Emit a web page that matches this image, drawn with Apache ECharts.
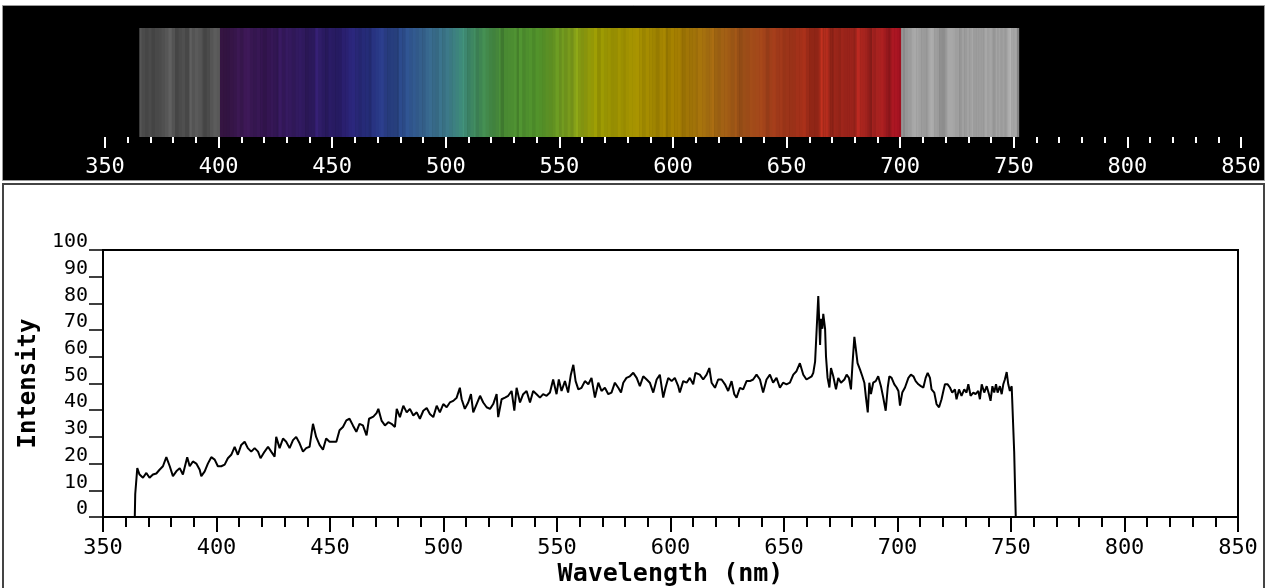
<!DOCTYPE html>
<html>
<head>
<meta charset="utf-8">
<script src="https://cdn.jsdelivr.net/npm/echarts@6/dist/echarts.min.js"></script>
<style>
html,body{margin:0;padding:0;background:#fff;}
#chart{width:1269px;height:588px;}
</style>
</head>
<body>
<div id="chart"></div>
<script>
const wavelength = [
364.0,364.2,364.9,365.1,366.1,367.6,369.1,370.5,372.0,373.5,374.9,376.4,377.9,379.4,380.8,382.3,383.8,385.2,387.1,388.2,
389.6,391.1,392.6,393.3,394.8,396.2,397.7,399.2,400.6,402.1,403.6,405.0,406.5,408.0,409.4,410.9,412.4,413.8,415.3,416.8,
418.3,419.4,421.2,422.7,424.1,425.6,426.3,427.8,429.3,430.7,432.2,433.7,435.1,436.6,438.1,439.5,441.0,442.5,443.9,445.4,
446.9,448.3,449.8,451.3,452.8,454.2,455.7,457.2,458.6,460.1,461.6,463.0,464.5,466.1,467.2,469.1,470.5,471.3,472.7,474.2,
475.7,477.1,478.6,479.4,480.8,482.3,483.8,485.2,486.7,488.2,489.6,491.1,492.6,494.0,495.5,497.0,498.4,499.9,501.4,502.8,
504.3,505.8,507.2,508.0,509.4,510.9,512.1,513.1,514.6,516.1,517.5,519.0,520.5,521.9,523.4,524.1,525.6,527.1,528.5,530.0,
531.2,532.2,533.7,535.1,536.6,538.1,539.5,541.0,542.5,543.9,545.4,546.9,548.3,549.8,550.8,552.0,553.5,554.9,556.1,557.2,
558.2,559.4,560.8,562.3,563.8,565.2,566.7,568.2,569.6,571.1,572.6,574.0,575.5,577.0,578.2,579.2,580.6,582.1,583.6,585.1,
586.5,588.0,589.5,590.9,592.4,593.9,595.3,596.8,597.8,599.0,600.5,601.9,603.4,604.1,605.6,607.1,608.5,610.0,611.0,612.9,
614.4,615.9,617.1,618.1,619.6,621.0,622.5,624.0,625.4,626.9,628.1,629.1,630.6,632.0,633.5,635.0,636.4,637.9,639.4,640.8,
642.3,643.8,645.2,646.7,648.2,649.6,651.1,652.6,654.1,655.5,657.0,658.5,659.9,660.7,662.2,662.9,663.7,664.4,665.1,665.9,
666.3,666.9,667.3,668.1,668.5,669.2,670.0,670.7,671.7,672.9,673.9,675.1,676.6,677.6,678.6,679.5,680.2,681.0,681.7,682.4,
683.5,684.5,685.4,686.1,686.9,687.6,688.3,689.3,690.4,691.5,692.7,693.7,694.8,695.7,696.4,697.4,698.6,699.6,700.4,701.1,
702.1,703.3,704.8,705.9,707.0,708.0,709.2,710.3,711.4,712.4,713.3,714.3,715.0,716.2,717.2,718.3,719.4,720.2,720.9,722.1,
723.1,724.1,725.3,726.0,727.1,728.2,729.4,730.4,731.2,732.2,733.4,734.4,735.6,736.3,737.1,738.2,739.3,740.3,741.0,741.8,
742.6,743.4,744.1,745.1,745.9,746.6,747.3,748.1,748.8,749.5,750.3,751.0,751.4,752.0,752.1
];
const intensity = [
0,8.6,8.6,18.3,15.9,14.7,16.5,14.7,15.9,16.3,17.7,19.0,22.4,19.0,15.3,17.1,18.3,15.9,22.4,19.0,
20.8,20.0,17.7,15.3,17.1,20.0,22.4,21.5,19.0,19.0,19.6,22.0,23.3,26.3,23.3,27.0,28.2,25.8,24.5,25.8,
24.5,22.0,24.5,26.3,24.5,22.6,30.0,25.8,29.4,28.2,25.8,28.8,30.0,27.6,24.5,25.8,26.3,34.9,30.0,27.0,
25.2,29.4,28.2,28.2,28.2,32.5,33.7,36.2,36.8,34.3,31.9,34.9,34.3,30.6,36.8,37.6,38.9,40.5,36.1,34.3,
35.5,34.9,33.7,40.5,37.4,41.7,39.2,40.5,38.0,39.2,36.8,39.8,40.8,38.6,37.4,41.7,39.2,42.3,41.1,42.9,
43.5,44.7,48.4,44.1,40.5,42.9,46.0,39.2,42.3,45.4,42.9,41.1,40.5,42.3,46.0,37.4,44.1,44.7,45.4,47.2,
39.8,48.4,42.9,46.0,47.2,42.9,47.2,46.0,44.7,46.0,45.4,46.6,51.5,46.0,51.5,47.2,50.9,46.6,53.3,57.0,
50.9,47.8,48.4,50.9,49.7,52.1,44.7,50.3,47.2,48.4,46.0,46.6,50.3,48.4,46.6,50.3,52.1,52.7,54.0,52.1,
49.0,52.7,51.5,50.3,46.6,51.5,53.3,44.7,48.4,52.1,50.9,52.1,49.0,46.6,50.9,50.3,52.1,49.7,54.0,53.3,
51.5,53.3,55.8,50.3,48.4,51.5,51.5,49.7,47.2,50.9,46.0,44.7,48.4,47.8,50.9,50.9,51.5,53.3,51.5,46.6,
51.5,53.3,50.3,52.1,48.4,50.3,49.7,50.3,53.3,54.6,57.6,53.3,51.5,52.1,52.7,54.0,58.2,70.5,82.8,64.4,
74.2,70.5,76.1,70.5,60.1,52.1,48.5,55.8,52.7,47.8,52.1,50.3,51.5,53.3,52.1,47.8,57.6,67.5,62.6,57.6,
55.2,52.7,50.3,44.8,39.2,50.3,46.0,50.3,50.9,52.7,49.0,44.8,39.8,48.5,52.7,52.1,49.7,48.5,47.2,41.7,
46.6,48.5,52.1,53.3,52.7,50.9,49.7,49.0,48.5,52.1,54.0,52.1,47.8,46.6,42.3,41.1,44.1,47.2,49.7,49.7,
48.5,46.6,47.8,44.1,47.8,45.4,47.8,46.6,49.7,45.4,46.6,46.0,47.2,44.1,49.7,46.6,49.0,46.0,43.5,49.0,
46.6,49.7,46.6,49.0,46.0,49.7,51.5,54.3,49.7,47.2,49.0,48.5,24.5,24.5,0
];
const xTickValues = [350, 400, 450, 500, 550, 600, 650, 700, 750, 800, 850];
const yTickValues = [0, 10, 20, 30, 40, 50, 60, 70, 80, 90, 100];

// spectral colour stops used to paint the band (style only)
const bandStops = [
  [364, [76,76,76]], [399.9, [84,84,84]],
  [400, [56,22,70]], [420, [54,22,84]], [440, [46,26,96]], [455, [40,30,108]],
  [465, [38,46,124]], [480, [42,72,134]], [490, [54,100,142]], [500, [60,120,136]],
  [506, [60,134,118]], [515, [64,136,82]], [525, [72,136,50]], [540, [80,144,42]],
  [555, [122,152,26]], [565, [152,152,4]], [580, [160,144,0]], [600, [160,124,0]],
  [615, [160,106,16]], [630, [158,80,24]], [645, [160,58,26]], [660, [158,42,24]],
  [690, [160,32,30]], [699.9, [160,16,32]],
  [700, [158,158,158]], [753, [160,160,160]]
];

function stopColor(l) {
  for (let i = 0; i < bandStops.length - 1; i++) {
    const a = bandStops[i], b = bandStops[i + 1];
    if (l >= a[0] && l <= b[0]) {
      const t = (l - a[0]) / (b[0] - a[0] || 1);
      return a[1].map((v, k) => v + (b[1][k] - v) * t);
    }
  }
  return l < bandStops[0][0] ? bandStops[0][1] : bandStops[bandStops.length - 1][1];
}

// build band stripes from the measured samples
const bandItems = [];
const bandColors = [];
const startIdx = 3, endIdx = wavelength.length - 3;
for (let i = startIdx; i <= endIdx; i++) {
  let s = 0, n = 0;
  for (let j = Math.max(startIdx, i - 6); j <= Math.min(endIdx, i + 6); j++) { s += intensity[j]; n++; }
  const mean = s / n;
  let f = intensity[i] / mean;
  f = Math.max(0.82, Math.min(1.7, 1 + (f - 1) * 0.8));
  const base = stopColor(wavelength[i]);
  const c = base.map(v => Math.max(0, Math.min(255, Math.round(v * f))));
  bandColors.push('rgb(' + c.join(',') + ')');
  const next = i < endIdx ? wavelength[i + 1] : wavelength[i] + 0.7;
  bandItems.push([wavelength[i], next]);
}

const lineData = wavelength.map((w, i) => [w, intensity[i]]);

const chart = echarts.init(document.getElementById('chart'), null, {renderer: 'canvas'});
const mono = 'DejaVu Sans Mono';
chart.setOption({
  animation: false,
  backgroundColor: '#fff',
  graphic: [
    { type: 'rect', z: -10, shape: { x: 2.5, y: 5.5, width: 1262, height: 175 },
      style: { fill: '#000', stroke: '#9a9a9a', lineWidth: 1 } },
    { type: 'rect', z: -10, shape: { x: 3, y: 184, width: 1261, height: 420 },
      style: { fill: '#fff', stroke: '#444', lineWidth: 2 } }
  ],
  grid: [
    { left: 105, right: 28, top: 28, height: 109, show: false },
    { left: 103, right: 31, top: 250, height: 271.5, show: true, borderColor: '#000', borderWidth: 2, backgroundColor: 'transparent' }
  ],
  xAxis: [
    { gridIndex: 0, type: 'value', min: xTickValues[0], max: xTickValues[xTickValues.length - 1], interval: 50,
      axisLine: { show: false },
      axisTick: { show: true, length: 11, lineStyle: { color: '#fff', width: 2 } },
      minorTick: { show: true, splitNumber: 5, length: 6, lineStyle: { color: '#fff', width: 2 } },
      splitLine: { show: false }, minorSplitLine: { show: false },
      axisLabel: { color: '#fff', fontFamily: mono, fontSize: 22, margin: 19 } },
    { gridIndex: 1, type: 'value', min: xTickValues[0], max: xTickValues[xTickValues.length - 1], interval: 50,
      axisLine: { show: true, onZero: false, lineStyle: { color: '#000', width: 2 } },
      axisTick: { show: true, length: 15, lineStyle: { color: '#000', width: 2 } },
      minorTick: { show: true, splitNumber: 5, length: 10, lineStyle: { color: '#000', width: 2 } },
      splitLine: { show: false }, minorSplitLine: { show: false },
      axisLabel: { color: '#000', fontFamily: mono, fontSize: 22, margin: 20 },
      name: 'Wavelength (nm)', nameLocation: 'middle', nameGap: 45,
      nameTextStyle: { color: '#000', fontFamily: mono, fontWeight: 'bold', fontSize: 25 } }
  ],
  yAxis: [
    { gridIndex: 0, type: 'value', min: 0, max: 1, show: false },
    { gridIndex: 1, type: 'value', min: yTickValues[0], max: yTickValues[yTickValues.length - 1], interval: 10,
      axisLine: { show: true, lineStyle: { color: '#000', width: 2 } },
      axisTick: { show: true, length: 14, lineStyle: { color: '#000', width: 1.5 } },
      splitLine: { show: false },
      axisLabel: { color: '#000', fontFamily: mono, fontSize: 20, margin: 15, verticalAlign: 'bottom', lineHeight: 16 },
      name: 'Intensity', nameLocation: 'middle', nameGap: 50, nameRotate: 90,
      nameTextStyle: { color: '#000', fontFamily: mono, fontWeight: 'bold', fontSize: 24 } }
  ],
  series: [
    { type: 'custom', xAxisIndex: 0, yAxisIndex: 0, data: bandItems, silent: true,
      renderItem: function (params, api) {
        const p0 = api.coord([api.value(0), 1]);
        const p1 = api.coord([api.value(1), 0]);
        return { type: 'rect',
          shape: { x: p0[0], y: p0[1], width: p1[0] - p0[0] + 0.6, height: p1[1] - p0[1] },
          style: { fill: bandColors[params.dataIndex] } };
      } },
    { type: 'line', xAxisIndex: 1, yAxisIndex: 1, data: lineData, showSymbol: false, symbol: 'none',
      lineStyle: { color: '#000', width: 2 }, silent: true }
  ]
});
</script>
</body>
</html>
